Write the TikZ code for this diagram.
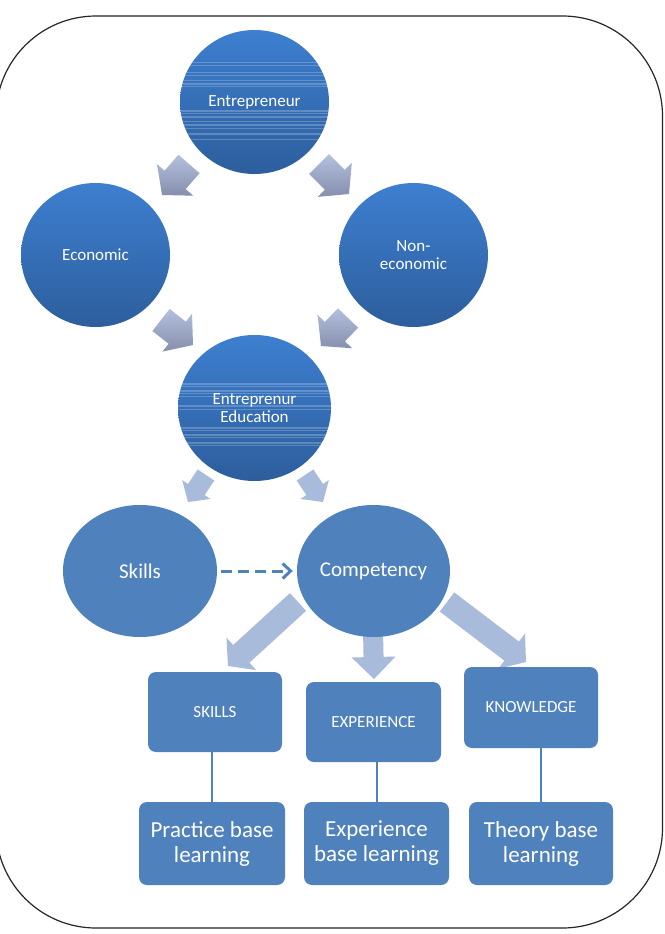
\documentclass[tikz,border=0pt]{standalone}
\usepackage{fontspec}
\setmainfont{Carlito}
\usetikzlibrary{calc,arrows.meta,shapes.geometric}
\definecolor{acc}{HTML}{4F81BD}
\definecolor{topc}{HTML}{3D7FD0}
\definecolor{botc}{HTML}{2D5E9D}
\definecolor{arrL}{HTML}{A9BBDB}
\definecolor{garrT}{HTML}{B3C0DD}
\definecolor{garrB}{HTML}{868FAD}
\newcommand{\blockarr}[6]{%
  \coordinate (bh) at ($(#3)!#6!(#2)$);
  \path[#1] ($(#2)!#4!90:(#3)$) -- ($(bh)!#4!90:(#3)$) -- ($(bh)!#5!90:(#3)$) -- (#3)
    -- ($(bh)!#5!-90:(#3)$) -- ($(bh)!#4!-90:(#3)$) -- ($(#2)!#4!-90:(#3)$) -- cycle;}
\tikzset{
  gradcirc/.style={ellipse, top color=topc, bottom color=botc, draw=none, text=white,
    font=\fontsize{17}{18.5}\selectfont, align=center, inner sep=0pt},
  flatcirc/.style={ellipse, fill=acc, draw=none, text=white, font=\fontsize{21}{24}\selectfont, inner sep=0pt},
  topbox/.style={rectangle, rounded corners=8pt, fill=acc, draw=none, text=white,
    font=\fontsize{17}{20}\selectfont, inner sep=0pt},
  botbox/.style={rectangle, rounded corners=8pt, fill=acc, draw=none, text=white,
    font=\fontsize{23}{25}\selectfont, align=center, inner sep=0pt},
  link/.style={draw=acc, line width=2pt},
  dasharr/.style={draw=acc, line width=3pt, dash pattern=on 11pt off 6pt,
    -{Straight Barb[length=8pt,width=15pt]}, shorten <=4pt, shorten >=4pt},
  grayarr/.style={top color=garrT, bottom color=garrB, draw=none},
  lightarr/.style={fill=arrL, draw=none},
  stripe/.style={fill=white, opacity=0.22},
  frame/.style={draw=black!85, line width=1.2pt, rounded corners=100pt}
}
\begin{document}
\begin{tikzpicture}[x=1pt,y=-1pt]
\useasboundingbox (0,0) rectangle (664,934);
\fill[white] (0,0) rectangle (664,934);
\draw[frame] (-4,16) rectangle (662.5,928);

% arrow coordinates
\coordinate (a1s) at (189,164); \coordinate (a1t) at (162,195);
\coordinate (a2s) at (319,164); \coordinate (a2t) at (349,194);
\coordinate (a3s) at (161,320); \coordinate (a3t) at (193,345);
\coordinate (a4s) at (348,318); \coordinate (a4t) at (321,346);
\coordinate (a5s) at (206,475); \coordinate (a5t) at (188,502);
\coordinate (a6s) at (305,475); \coordinate (a6t) at (323,502);
\coordinate (a7s) at (298,602); \coordinate (a7t) at (228,666);
\coordinate (a8s) at (373,630); \coordinate (a8t) at (374,679);
\coordinate (a9s) at (447,602); \coordinate (a9t) at (526,662);

\blockarr{grayarr}{a1s}{a1t}{14pt}{24pt}{20pt}
\blockarr{grayarr}{a2s}{a2t}{14pt}{24pt}{20pt}
\blockarr{grayarr}{a3s}{a3t}{14pt}{24pt}{20pt}
\blockarr{grayarr}{a4s}{a4t}{14pt}{24pt}{20pt}
\blockarr{lightarr}{a5s}{a5t}{10pt}{17pt}{15pt}
\blockarr{lightarr}{a6s}{a6t}{10pt}{17pt}{15pt}
\blockarr{lightarr}{a7s}{a7t}{12pt}{22pt}{18pt}
\blockarr{lightarr}{a8s}{a8t}{10pt}{22pt}{22pt}
\blockarr{lightarr}{a9s}{a9t}{12pt}{22pt}{18pt}

% circles
\node[gradcirc, minimum width=149pt, minimum height=144pt] (ent) at (254.5,102) {};
\begin{scope}
  \clip (254.5,102) ellipse [x radius=74.5pt, y radius=72pt];
  \foreach \yy/\hh in {62/1.5,65/1,72/1.2,75/0.8,80/1,83/1.5,86/1,110/1.5,113/1,116/1.5,121/1,124/1.5,128/1,133/1.5,139/1.2}
    \fill[stripe] (170,\yy) rectangle (340,\yy+\hh);
\end{scope}
\node[text=white, font=\fontsize{17}{18.5}\selectfont] (entt) at (ent.center) {Entrepreneur};

\node[gradcirc, minimum width=149pt, minimum height=144pt] (eco) at (95.5,255) {Economic};
\node[gradcirc, minimum width=149pt, minimum height=144pt] (neco) at (413.5,255) {Non-\\economic};

\node[gradcirc, minimum width=153pt, minimum height=146pt] (edu) at (254.5,408) {};
\begin{scope}
  \clip (254.5,408) ellipse [x radius=76.5pt, y radius=73pt];
  \foreach \yy/\hh in {383/1.5,386/1,390/1.5,393/1,396/1.2,405/1.5,409/1,427/1.5,430/1,434/1.5,437/1,442/1.5,445/1}
    \fill[stripe] (170,\yy) rectangle (340,\yy+\hh);
\end{scope}
\node[text=white, font=\fontsize{17}{18.5}\selectfont, align=center] (edut) at (edu.center) {Entreprenur\\Education};

\node[flatcirc, minimum width=154pt, minimum height=132pt] (skl) at (140,571) {Skills};
\node[flatcirc, minimum width=153pt, minimum height=132pt] (comp) at (373.5,571) {Competency};

\draw[dasharr] (skl.east) -- (comp.west);

% boxes
\node[topbox, minimum width=134pt, minimum height=80pt] (bskills) at (215,712) {SKILLS};
\node[topbox, minimum width=135pt, minimum height=80pt] (bexp) at (373.5,722) {EXPERIENCE};
\node[topbox, minimum width=134pt, minimum height=81pt] (bknow) at (531,707.5) {KNOWLEDGE};

\node[botbox, minimum width=146pt, minimum height=83pt] (prac) at (212,843.5) {Practice base\\learning};
\node[botbox, minimum width=145pt, minimum height=83pt] (expb) at (376.5,843.5) {Experience\\base learning};
\node[botbox, minimum width=144pt, minimum height=83pt] (theo) at (541,843.5) {Theory base\\learning};

\draw[link] (prac.north) -- (prac.north |- bskills.south);
\draw[link] (expb.north) -- (expb.north |- bexp.south);
\draw[link] (theo.north) -- (theo.north |- bknow.south);
\end{tikzpicture}
\end{document}
